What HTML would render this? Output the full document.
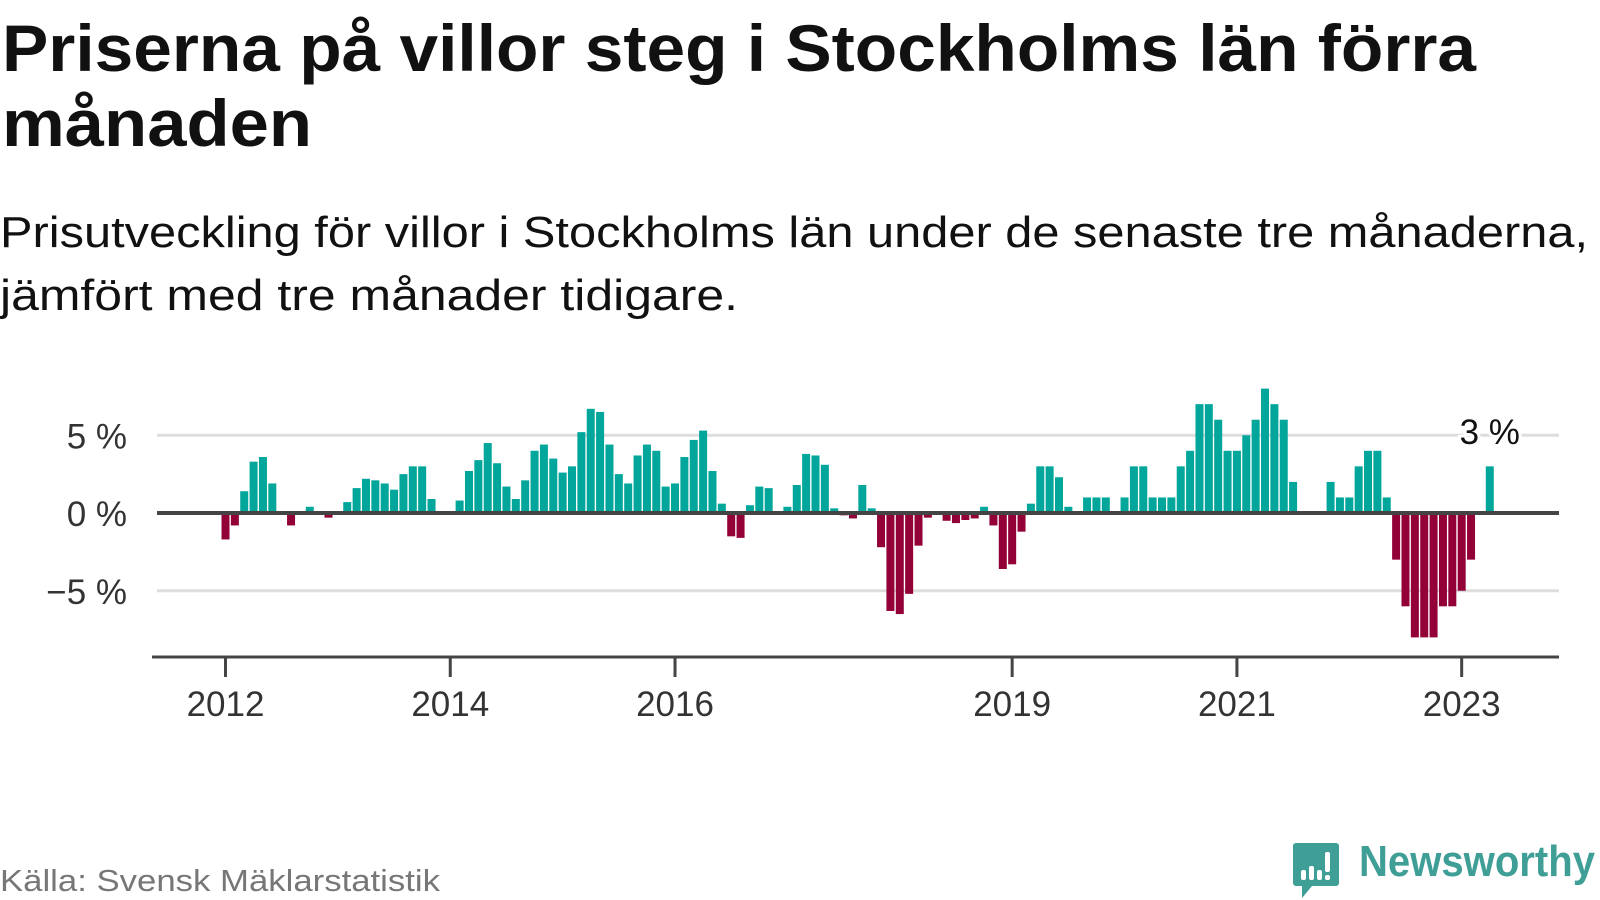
<!DOCTYPE html>
<html lang="sv">
<head>
<meta charset="utf-8">
<style>
  html,body{margin:0;padding:0;background:#fff;}
  body{width:1600px;height:900px;overflow:hidden;font-family:"Liberation Sans",sans-serif;}
  svg{display:block;}
</style>
</head>
<body>
<svg id="chart" width="1600" height="900" viewBox="0 0 1600 900" xmlns="http://www.w3.org/2000/svg">
  <text x="2" y="71" font-family="Liberation Sans, sans-serif" font-weight="bold" font-size="66" fill="#111" textLength="1474" lengthAdjust="spacingAndGlyphs">Priserna på villor steg i Stockholms län förra</text>
  <text x="2" y="146" font-family="Liberation Sans, sans-serif" font-weight="bold" font-size="66" fill="#111" textLength="310" lengthAdjust="spacingAndGlyphs">månaden</text>
  <text x="0" y="247" font-family="Liberation Sans, sans-serif" font-size="44" fill="#111" textLength="1588" lengthAdjust="spacingAndGlyphs">Prisutveckling för villor i Stockholms län under de senaste tre månaderna,</text>
  <text x="0" y="310" font-family="Liberation Sans, sans-serif" font-size="44" fill="#111" textLength="738" lengthAdjust="spacingAndGlyphs">jämfört med tre månader tidigare.</text>
  <g id="plot"></g>
  <text x="0" y="891" font-family="Liberation Sans, sans-serif" font-size="31" fill="#777" textLength="440" lengthAdjust="spacingAndGlyphs">Källa: Svensk Mäklarstatistik</text>
  <g>
    <path d="M1296 843 h40 a3 3 0 0 1 3 3 v37 a3 3 0 0 1 -3 3 h-24 l-10 12 v-12 h-6 a3 3 0 0 1 -3 -3 v-37 a3 3 0 0 1 3 -3z" fill="#3f9e96"/>
    <rect x="1301" y="870" width="5" height="10" rx="2" fill="#fff"/>
    <rect x="1309" y="866" width="5" height="14" rx="2" fill="#fff"/>
    <rect x="1317" y="870" width="5" height="10" rx="2" fill="#fff"/>
    <rect x="1325" y="852" width="5" height="20" rx="2" fill="#fff"/>
    <rect x="1325" y="875" width="5" height="5" rx="2" fill="#fff"/>
    <text x="1359" y="876" font-family="Liberation Sans, sans-serif" font-weight="bold" font-size="44" fill="#3f9e96" textLength="236" lengthAdjust="spacingAndGlyphs">Newsworthy</text>
  </g>
</svg>
<script>
const monthIndex = [];
const values = [
  -1.7,-0.8,1.4,3.3,3.6,1.9,null,-0.8,null,0.4,null,-0.3,null,0.7,1.6,2.2,2.1,1.9,1.5,2.5,
  3.0,3.0,0.9,null,null,0.8,2.7,3.4,4.5,3.2,1.7,0.9,2.1,4.0,4.4,3.5,2.6,3.0,5.2,6.7,
  6.5,4.4,2.5,1.9,3.7,4.4,4.0,1.7,1.9,3.6,4.7,5.3,2.7,0.6,-1.5,-1.6,0.5,1.7,1.6,null,
  0.4,1.8,3.8,3.7,3.1,0.3,-0.15,-0.35,1.8,0.3,-2.2,-6.3,-6.5,-5.2,-2.1,-0.3,null,-0.5,-0.65,-0.45,
  -0.35,0.4,-0.8,-3.6,-3.3,-1.2,0.6,3.0,3.0,2.3,0.4,null,1,1,1,null,1,3,3,1,
  1,1,3,4,7,7,6,4,4,5,6,8,7,6,2,null,null,null,2,1,
  1,3,4,4,1,-3,-6,-8,-8,-8,-6,-6,-5,-3,null,3
];
for (let i = 0; i < values.length; i++) monthIndex.push(i);
const xTickLabels = ["2012","2014","2016","2019","2021","2023"];
const xTickIndex = [0,24,48,84,108,132];
const yTickValues = [5,0,-5];
const yTickLabels = ["5 %","0 %","\u22125 %"];
const lastLabel = "3 %";

const NS = "http://www.w3.org/2000/svg";
const plot = document.getElementById("plot");
const X0 = 225.5, STEP = 9.365, BARW = 8;
const Y0 = 513, PPU = 15.55;
const x = i => X0 + i * STEP;
const y = v => Y0 - v * PPU;
function mk(tag, attrs) {
  const el = document.createElementNS(NS, tag);
  for (const k in attrs) el.setAttribute(k, attrs[k]);
  plot.appendChild(el);
  return el;
}
yTickValues.forEach((v, k) => {
  if (v !== 0) {
    const g = mk("line", {x1:157, x2:1559, y1:y(v), y2:y(v), stroke:"#dddddd", "stroke-width":3});
    
    
  }
  const t = mk("text", {x:127, y:y(v)+13, "text-anchor":"end", "font-family":"Liberation Sans, sans-serif", "font-size":35, fill:"#333"});
  t.textContent = yTickLabels[k];
  
  
});
values.forEach((v, k) => {
  if (v === null) return;
  const i = monthIndex[k];
  const top = Math.min(y(v), Y0), h = Math.abs(y(v) - Y0);
  const r = mk("rect", {x:x(i)-BARW/2, y:top, width:BARW, height:h, fill: v >= 0 ? "#02a69b" : "#930038"});
  
  
});
const zl = mk("line", {x1:157, x2:1559, y1:Y0, y2:Y0, stroke:"#444", "stroke-width":4});


const ax = mk("line", {x1:152, x2:1559, y1:657, y2:657, stroke:"#444", "stroke-width":3});


xTickIndex.forEach((i, k) => {
  const tk = mk("line", {x1:x(i), x2:x(i), y1:657, y2:677, stroke:"#444", "stroke-width":3});
  
  
  const t = mk("text", {x:x(i), y:716, "text-anchor":"middle", "font-family":"Liberation Sans, sans-serif", "font-size":35, fill:"#333"});
  t.textContent = xTickLabels[k];
  
  
});
let lastK = values.length - 1;
while (values[lastK] === null) lastK--;
const lbl = mk("text", {x:x(monthIndex[lastK]), y:444, "text-anchor":"middle", "font-family":"Liberation Sans, sans-serif", "font-size":35, fill:"#111", stroke:"#fff", "stroke-width":6, "paint-order":"stroke"});
lbl.textContent = lastLabel;


</script>
</body>
</html>
